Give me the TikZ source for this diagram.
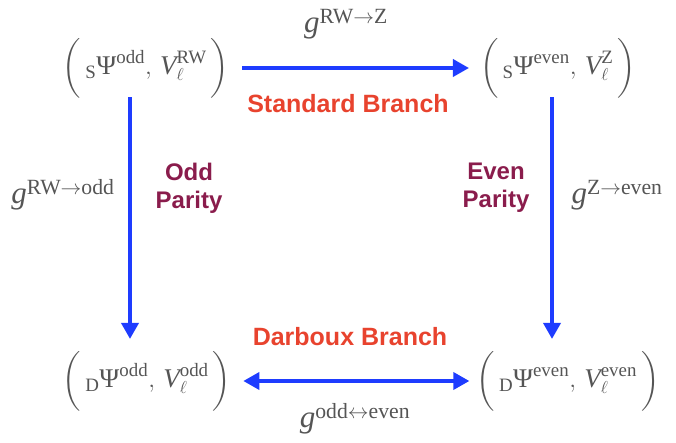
\documentclass[tikz,border=0pt]{standalone}
\usepackage{amsmath}
\usepackage{fontspec}
\setmainfont{Liberation Serif}
\setsansfont{Liberation Sans}
\usetikzlibrary{arrows.meta}
\definecolor{txtgray}{HTML}{555555}
\definecolor{arrblue}{HTML}{1E3CFF}
\definecolor{brred}{HTML}{E8432E}
\definecolor{parmaroon}{HTML}{8A1C4C}
\tikzset{
  tuple/.style={text=txtgray, inner sep=0pt, font=\fontsize{27}{30}\selectfont},
  glabel/.style={text=txtgray, inner sep=0pt, font=\fontsize{31}{34}\selectfont},
  branch/.style={text=brred, inner sep=0pt, font=\sffamily\bfseries\fontsize{25}{28}\selectfont},
  parity/.style={text=parmaroon, inner sep=0pt, align=center, font=\sffamily\bfseries\fontsize{24}{28}\selectfont},
  conn/.style={draw=arrblue, line width=3.6pt, -{Triangle[width=17pt,length=16pt]}},
  conn2/.style={draw=arrblue, line width=3.6pt, {Triangle[width=17pt,length=16pt]}-{Triangle[width=17pt,length=16pt]}}
}
\newcommand{\tpl}[3]{$\bigg(\,{}_{\text{#1}}\text{Ψ}^{\text{#2}},\,\textit{V}^{\text{#3}}_{\ell}\,\bigg)$}
\begin{document}
\begin{tikzpicture}[x=1pt,y=-1pt]
\useasboundingbox (0,0) rectangle (676,443);
\node[tuple] (TL) at (146,68) {\tpl{S}{odd}{RW}};
\node[tuple] (TR) at (558,68) {\tpl{S}{even}{Z}};
\node[tuple] (BL) at (147,381) {\tpl{D}{odd}{odd}};
\node[tuple] (BR) at (568,381) {\tpl{D}{even}{even}};
\node[glabel] (g1) at (346,24) {\textit{g}$^{\text{RW}\to\text{Z}}$};
\node[glabel] (g2) at (63,195) {\textit{g}$^{\text{RW}\to\text{odd}}$};
\node[glabel] (g3) at (617,195) {\textit{g}$^{\text{Z}\to\text{even}}$};
\node[glabel] (g4) at (355,419) {\textit{g}$^{\text{odd}\leftrightarrow\text{even}}$};
\node[branch] (sb) at (348,104) {Standard Branch};
\node[branch] (db) at (350,337) {Darboux Branch};
\node[parity] (op) at (189,188) {Odd\\Parity};
\node[parity] (ep) at (496,188) {Even\\Parity};
\coordinate (a1s) at ([xshift=13pt]TL.east);
\coordinate (a1e) at ([xshift=-11pt]TR.west);
\draw[conn] (a1s) -- (a1e |- a1s);
\coordinate (a2s) at ([xshift=-16pt,yshift=1pt]TL.south);
\coordinate (a2e) at ([xshift=-17pt,yshift=12pt]BL.north);
\draw[conn] (a2s) -- (a2s |- a2e);
\coordinate (a3s) at ([xshift=-6pt,yshift=1pt]TR.south);
\coordinate (a3e) at ([xshift=-16pt,yshift=12pt]BR.north);
\draw[conn] (a3s) -- (a3s |- a3e);
\coordinate (a4s) at ([xshift=12pt]BL.east);
\coordinate (a4e) at ([xshift=-7pt]BR.west);
\draw[conn2] (a4s) -- (a4e |- a4s);
\end{tikzpicture}
\end{document}
